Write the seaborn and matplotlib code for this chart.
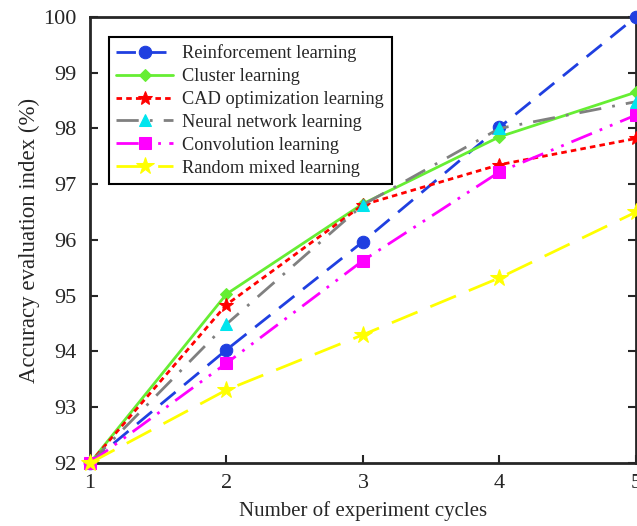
import matplotlib
matplotlib.use("Agg")
import matplotlib.pyplot as plt
import seaborn as sns
import pandas as pd

cycles = [1, 2, 3, 4, 5]
reinforcement = [92.0, 94.03, 95.97, 98.02, 100.0]
cluster = [92.0, 95.03, 96.65, 97.85, 98.65]
cad = [92.0, 94.84, 96.63, 97.35, 97.82]
neural = [92.0, 94.49, 96.63, 98.0, 98.48]
convolution = [92.0, 93.79, 95.63, 97.22, 98.24]
random_mixed = [92.0, 93.31, 94.30, 95.32, 96.50]

names = ["Reinforcement learning", "Cluster learning", "CAD optimization learning",
         "Neural network learning", "Convolution learning", "Random mixed learning"]
series = [reinforcement, cluster, cad, neural, convolution, random_mixed]

sns.set_style("ticks")
plt.rcParams['font.family'] = ['Liberation Serif', 'DejaVu Serif']

styles = [
    dict(color="#1f3fe0", marker="o", markersize=9, linestyle=(0, (7, 4)), mfc="#1f3fe0", mec="#1f3fe0"),
    dict(color="#66ee33", marker="D", markersize=6, linestyle="-", mfc="#66ee33", mec="#66ee33"),
    dict(color="#ff0000", marker="*", markersize=10, linestyle=(0, (2, 1.5)), mfc="#ff0000", mec="#ff0000"),
    dict(color="#808080", marker="^", markersize=9, linestyle=(0, (8, 4, 1, 4)), mfc="#00e5ee", mec="#00e5ee"),
    dict(color="#ff00ff", marker="s", markersize=9, linestyle=(0, (8, 3, 1, 3, 1, 3)), mfc="#ff00ff", mec="#ff00ff"),
    dict(color="#ffff00", marker="*", markersize=13, linestyle=(0, (10, 5)), mfc="#ffff00", mec="#ffff00"),
]

fig = plt.figure(figsize=(6.37, 5.26), dpi=100)
ax = fig.add_axes([0.1413, 0.1198, 0.857, 0.848])

for name, vals, st in zip(names, series, styles):
    df = pd.DataFrame({"x": cycles, "y": vals})
    sns.lineplot(data=df, x="x", y="y", ax=ax, label=name, color=st["color"],
                 marker=st["marker"], markersize=st["markersize"], linestyle=st["linestyle"],
                 markerfacecolor=st["mfc"], markeredgecolor=st["mec"], linewidth=2,
                 clip_on=False, zorder=3)

ax.set_xlim(1, 5)
ax.set_ylim(92, 100)
ax.set_xticks(cycles)
ax.set_yticks(range(92, 101))
ax.tick_params(direction="in", length=6, width=1.5, labelsize=16, top=False, right=True)
ax.tick_params(axis="y", pad=10)
ax.tick_params(axis="x", pad=8)
for s in ax.spines.values():
    s.set_linewidth(2)
ax.set_xlabel("Number of experiment cycles", fontsize=15, labelpad=6)
ax.set_ylabel("Accuracy evaluation index (%)", fontsize=16.5, labelpad=2)

leg = ax.legend(loc="upper left", bbox_to_anchor=(0.035, 0.955), fontsize=13.2,
                frameon=True, fancybox=False, framealpha=1, edgecolor="black",
                handlelength=3.1, labelspacing=0.32, borderpad=0.4, handletextpad=0.5,
                borderaxespad=0)
leg.get_frame().set_linewidth(1.5)

fig.savefig("out.png", dpi=100)
